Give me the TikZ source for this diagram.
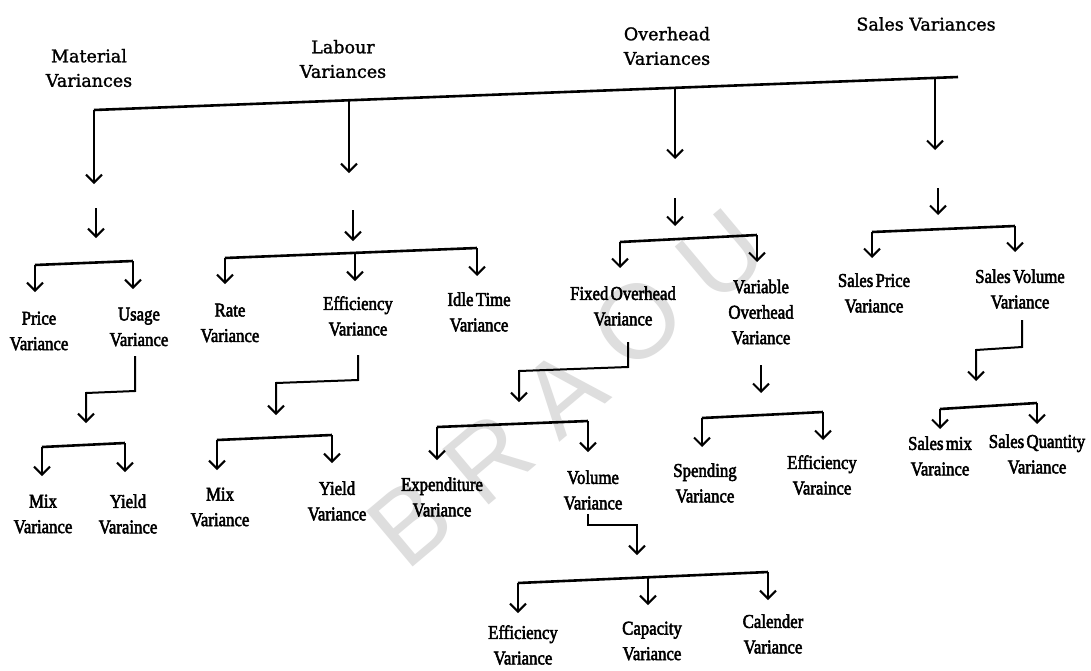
\documentclass[tikz,border=0pt]{standalone}
\usepackage{fontspec}
\setmainfont{Liberation Serif}
\newfontfamily\topfam[FakeBold=1.4]{DejaVu Serif}
\newfontfamily\lblfam[FakeBold=2.6,FakeStretch=0.86,WordSpace=0.55]{Liberation Serif}
\newfontfamily\wmfam{Liberation Sans}
\usetikzlibrary{arrows.meta}
\tikzset{
  ln/.style={line width=2.6pt},
  arr/.style={line width=2pt,-{Straight Barb[length=8pt,width=16pt,line width=2pt]}},
  lbl/.style={font=\lblfam\fontsize{19.5}{25.5}\selectfont,align=center,inner sep=0pt},
  toplbl/.style={font=\topfam\fontsize{17.5}{24.5}\selectfont,align=center,inner sep=0pt},
  wm/.style={font=\wmfam\fontsize{105}{105}\selectfont,text=black!13,rotate=40,inner sep=0pt}
}
\begin{document}
\begin{tikzpicture}[x=1pt,y=-1pt]
\useasboundingbox (0,0) rectangle (1091,670);
\fill[white] (0,0) rectangle (1091,670);
% watermark
\node[wm] (wB) at (410,522) {B};
\node[wm] (wR) at (488,458) {R};
\node[wm] (wA) at (563,392) {A};
\node[wm] (wO) at (638,322) {O};
\node[wm] (wU) at (722,256) {U};
% top labels
\node[toplbl] (mat) at (89,68) {Material\\Variances};
\node[toplbl] (lab) at (343,59) {Labour\\Variances};
\node[toplbl] (ovh) at (667,46) {Overhead\\Variances};
\node[toplbl] (sal) at (926,24) {Sales Variances};
% main line and drops
\coordinate (mL) at (94,110);
\coordinate (mR) at (958,77);
\coordinate (d2) at (349,100);
\coordinate (d3) at (675,88);
\coordinate (d4) at (935,78);
\draw[ln] (mL) -- (mR);
\coordinate (t1) at (94,184);
\coordinate (t2) at (349,173);
\coordinate (t3) at (675,159);
\coordinate (t4) at (935,150);
\draw[arr] (mL) -- (t1);
\draw[arr] (d2) -- (t2);
\draw[arr] (d3) -- (t3);
\draw[arr] (d4) -- (t4);
% second short arrows
\coordinate (a1s) at (96,208); \coordinate (a1e) at (96,238);
\coordinate (a2s) at (353,210); \coordinate (a2e) at (353,241);
\coordinate (a3s) at (675,198); \coordinate (a3e) at (675,226);
\coordinate (a4s) at (938,188); \coordinate (a4e) at (938,215);
\draw[arr] (a1s) -- (a1e);
\draw[arr] (a2s) -- (a2e);
\draw[arr] (a3s) -- (a3e);
\draw[arr] (a4s) -- (a4e);
% ---------------- Material
\node[lbl] (price) at (39,331) {Price\\Variance};
\node[lbl] (usage) at (139,327) {Usage\\Variance};
\coordinate (mb1) at (35,265); \coordinate (mb2) at (133,261);
\draw[ln] (mb1) -- (mb2);
\draw[arr] (mb1) -- (35,292);
\draw[arr] (mb2) -- (133,289);
\coordinate (u0) at (135,356);
\draw[arr] (u0) -- (135,391) -- (86,393) -- (86,423);
\node[lbl] (mmix) at (43,514) {Mix\\Variance};
\node[lbl] (myld) at (128,514) {Yield\\Varaince};
\coordinate (mc1) at (42,447); \coordinate (mc2) at (125,443);
\draw[ln] (mc1) -- (mc2);
\draw[arr] (mc1) -- (42,476);
\draw[arr] (mc2) -- (125,472);
% ---------------- Labour
\node[lbl] (rate) at (230,323) {Rate\\Variance};
\node[lbl] (leff) at (358,316) {Efficiency\\Variance};
\node[lbl] (idle) at (479,312) {Idle Time\\Variance};
\coordinate (lb1) at (225,258); \coordinate (lb2) at (477,248); \coordinate (lbm) at (355,253);
\draw[ln] (lb1) -- (lb2);
\draw[arr] (lb1) -- (225,284);
\draw[arr] (lbm) -- (355,281);
\draw[arr] (lb2) -- (477,276);
\coordinate (e0) at (358,355);
\draw[arr] (e0) -- (358,380) -- (276,383) -- (276,415);
\node[lbl] (lmix) at (220,507) {Mix\\Variance};
\node[lbl] (lyld) at (337,501) {Yield\\Variance};
\coordinate (lc1) at (217,440); \coordinate (lc2) at (332,435);
\draw[ln] (lc1) -- (lc2);
\draw[arr] (lc1) -- (217,470);
\draw[arr] (lc2) -- (332,463);
% ---------------- Overhead
\node[lbl] (fixed) at (623,306) {Fixed Overhead\\Variance};
\node[lbl] (var) at (761,312) {Variable\\Overhead\\Variance};
\coordinate (ob1) at (620,242); \coordinate (ob2) at (757,235);
\draw[ln] (ob1) -- (ob2);
\draw[arr] (ob1) -- (620,268);
\draw[arr] (ob2) -- (757,262);
\coordinate (f0) at (628,342);
\draw[arr] (f0) -- (628,367) -- (519,371) -- (519,402);
\coordinate (v0) at (761,365); \coordinate (v1) at (761,393);
\draw[arr] (v0) -- (v1);
\node[lbl] (expd) at (442,497) {Expenditure\\Variance};
\node[lbl] (vol) at (593,490) {Volume\\Variance};
\coordinate (xb1) at (437,427); \coordinate (xb2) at (588,421);
\draw[ln] (xb1) -- (xb2);
\draw[arr] (xb1) -- (437,460);
\draw[arr] (xb2) -- (588,452);
\coordinate (w0) at (588,514);
\draw[arr] (w0) -- (588,525) -- (637,525) -- (637,555);
\node[lbl] (oeff) at (523,645) {Efficiency\\Variance};
\node[lbl] (cap) at (652,641) {Capacity\\Variance};
\node[lbl] (cal) at (773,634) {Calender\\Variance};
\coordinate (yb1) at (518,583); \coordinate (yb2) at (768,572); \coordinate (ybm) at (648,577);
\draw[ln] (yb1) -- (yb2);
\draw[arr] (yb1) -- (518,613);
\draw[arr] (ybm) -- (648,605);
\draw[arr] (yb2) -- (768,600);
\node[lbl] (spend) at (705,483) {Spending\\Variance};
\node[lbl] (veff) at (822,475) {Efficiency\\Varaince};
\coordinate (sb1) at (702,418); \coordinate (sb2) at (823,412);
\draw[ln] (sb1) -- (sb2);
\draw[arr] (sb1) -- (702,447);
\draw[arr] (sb2) -- (823,440);
% ---------------- Sales
\node[lbl] (sprice) at (874,293) {Sales Price\\Variance};
\node[lbl] (svol) at (1020,289) {Sales Volume\\Variance};
\coordinate (pb1) at (872,232); \coordinate (pb2) at (1015,226);
\draw[ln] (pb1) -- (pb2);
\draw[arr] (pb1) -- (872,258);
\draw[arr] (pb2) -- (1015,252);
\coordinate (s0) at (1022,320);
\draw[arr] (s0) -- (1022,347) -- (976,350) -- (976,381);
\node[lbl] (smix) at (940,456) {Sales mix\\Varaince};
\node[lbl] (sqty) at (1037,454) {Sales Quantity\\Variance};
\coordinate (qb1) at (940,409); \coordinate (qb2) at (1037,403);
\draw[ln] (qb1) -- (qb2);
\draw[arr] (qb1) -- (940,429);
\draw[arr] (qb2) -- (1037,424);
\end{tikzpicture}
\end{document}
